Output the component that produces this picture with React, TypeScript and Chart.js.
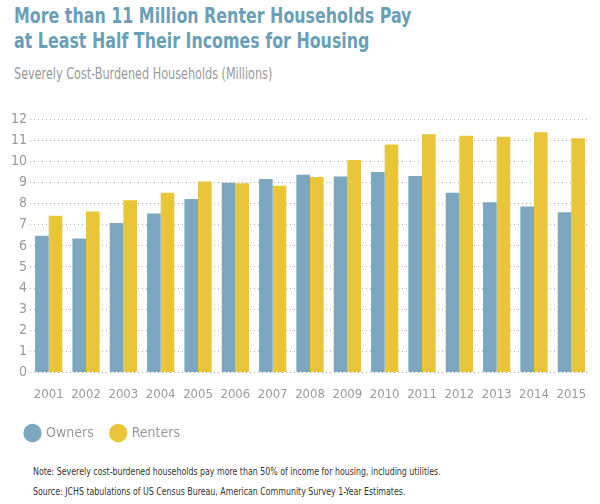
import React, { useEffect, useRef } from "react";
import { Chart, registerables } from "chart.js";

Chart.register(...registerables);

const years = ["2001","2002","2003","2004","2005","2006","2007","2008","2009","2010","2011","2012","2013","2014","2015"];
const owners = [6.48,6.35,7.09,7.54,8.23,8.99,9.17,9.37,9.29,9.51,9.32,8.52,8.07,7.87,7.60];
const renters = [7.43,7.63,8.17,8.52,9.05,8.97,8.85,9.27,10.08,10.81,11.30,11.23,11.18,11.39,11.11];
const titleLines = ["More than 11 Million Renter Households Pay", "at Least Half Their Incomes for Housing"];
const subtitleText = "Severely Cost-Burdened Households (Millions)";
const noteLines = [
  "Note: Severely cost-burdened households pay more than 50% of income for housing, including utilities.",
  "Source: JCHS tabulations of US Census Bureau, American Community Survey 1-Year Estimates.",
];

const FONT = "'DejaVu Sans Condensed', 'Liberation Sans Narrow', 'Roboto', sans-serif";

export default function App() {
  const ref = useRef<HTMLCanvasElement | null>(null);
  useEffect(() => {
    if (!ref.current) return;
    const chart = new Chart(ref.current, {
      type: "bar",
      data: {
        labels: years,
        datasets: [
          { label: "Owners", data: owners, backgroundColor: "#7ba8be" },
          { label: "Renters", data: renters, backgroundColor: "#e9c53a" },
        ],
      },
      options: {
        animation: false,
        responsive: false,
        layout: { padding: { left: 8, right: 10, top: 0, bottom: 0 } },
        datasets: { bar: { barPercentage: 1, categoryPercentage: 0.73 } } as any,
        plugins: {
          title: { display: false },
          legend: {
            position: "bottom",
            align: "start",
            labels: {
              usePointStyle: true,
              pointStyle: "circle",
              boxWidth: 13,
              boxHeight: 13,
              color: "#9a9a9a",
              font: { family: FONT, size: 14 },
              padding: 18,
            },
          },
          tooltip: { enabled: false },
        },
        scales: {
          x: {
            grid: { display: false },
            border: { display: false },
            ticks: { color: "#9a9a9a", font: { family: FONT, size: 13 }, maxRotation: 0, autoSkip: false, padding: 6 },
          },
          y: {
            min: 0,
            max: 12,
            ticks: { stepSize: 1, color: "#9a9a9a", font: { family: FONT, size: 14 }, padding: 3 },
            grid: { color: "#b0b0b0", lineWidth: 1, drawTicks: false },
            border: { display: false, dash: [1, 3] },
          },
        },
      },
    });
    return () => chart.destroy();
  }, []);
  const scaled = (sx: number): React.CSSProperties => ({ transform: `scaleX(${sx})`, transformOrigin: "left top", whiteSpace: "nowrap" });
  return (
    <div style={{ position: "absolute", left: 0, top: 0, width: 600, height: 504, background: "#fff" }}>
      <div style={{ position: "absolute", left: 14, top: 4, fontFamily: FONT, fontSize: 21, fontWeight: "bold", color: "#6b9fb8", lineHeight: "25px" }}>
        {titleLines.map((l, i) => (<div key={i} style={scaled(0.84)}>{l}</div>))}
      </div>
      <div style={{ position: "absolute", left: 14, top: 64, fontFamily: FONT, fontSize: 16, color: "#9a9a9a", lineHeight: "20px", ...scaled(0.78) }}>
        {subtitleText}
      </div>
      <canvas ref={ref} width={600} height={342} style={{ position: "absolute", left: 0, top: 108, display: "block" }} />
      <div style={{ position: "absolute", left: 33, top: 462, fontFamily: FONT, fontSize: 11, color: "#333", lineHeight: "20px" }}>
        {noteLines.map((l, i) => (<div key={i} style={scaled(0.795)}>{l}</div>))}
      </div>
    </div>
  );
}
